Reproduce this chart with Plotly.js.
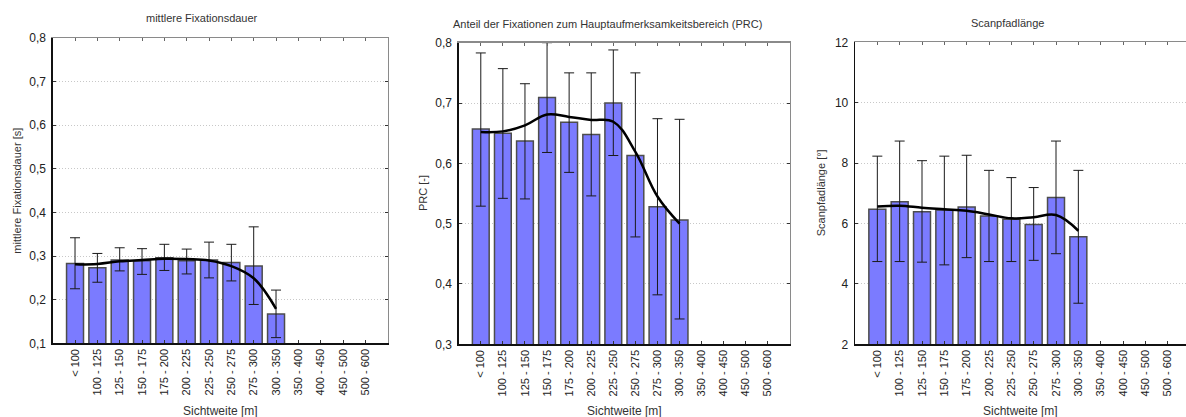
<!DOCTYPE html>
<html>
<head>
<meta charset="utf-8">
<script src="https://cdn.plot.ly/plotly-3.0.1.min.js"></script>
<style>
  html, body { margin: 0; padding: 0; background: #fff; }
  #chart { width: 1186px; height: 417px; }
</style>
</head>
<body>
<div id="chart"></div>
<script>
// Visibility classes (Sichtweite)
const categories = ['< 100', '100 - 125', '125 - 150', '150 - 175', '175 - 200', '200 - 225', '225 - 250',
  '250 - 275', '275 - 300', '300 - 350', '350 - 400', '400 - 450', '450 - 500', '500 - 600'];

// Mean fixation duration [s]
const fixMean  = [0.283, 0.273, 0.291, 0.289, 0.296, 0.289, 0.291, 0.285, 0.277, 0.167];
const fixUpper = [0.342, 0.306, 0.319, 0.317, 0.327, 0.316, 0.332, 0.327, 0.367, 0.222];
const fixLower = [0.225, 0.240, 0.266, 0.258, 0.267, 0.259, 0.250, 0.243, 0.189, 0.113];
const fixTrend = [0.281, 0.282, 0.288, 0.291, 0.294, 0.293, 0.290, 0.277, 0.249, 0.179];

// Share of fixations in the main attention area (PRC)
const prcMean  = [0.657, 0.650, 0.637, 0.709, 0.668, 0.648, 0.700, 0.613, 0.528, 0.506];
const prcUpper = [0.783, 0.757, 0.732, 0.800, 0.750, 0.750, 0.788, 0.750, 0.674, 0.673];
const prcLower = [0.529, 0.542, 0.541, 0.618, 0.585, 0.546, 0.613, 0.478, 0.382, 0.342];
const prcTrend = [0.652, 0.653, 0.663, 0.681, 0.677, 0.672, 0.669, 0.619, 0.545, 0.500];

// Scan path length [°]
const scanMean  = [6.47, 6.72, 6.39, 6.45, 6.55, 6.25, 6.14, 5.97, 6.86, 5.56];
const scanUpper = [8.23, 8.73, 8.08, 8.23, 8.26, 7.76, 7.52, 7.19, 8.73, 7.76];
const scanLower = [4.74, 4.74, 4.72, 4.63, 4.87, 4.74, 4.74, 4.78, 5.00, 3.36];
const scanTrend = [6.56, 6.59, 6.52, 6.47, 6.42, 6.30, 6.17, 6.21, 6.28, 5.76];

const W = 1186, H = 417;
const px = v => v / W;           // horizontal pixel -> paper
const py = v => 1 - v / H;       // vertical pixel -> paper

const FONT = 'Liberation Sans, Arial, sans-serif';
const BAR_FILL = '#7b7bff';
const BAR_LINE = '#4d4d4d';

// Panel frames in pixels: left, right, top, bottom
const panels = [
  { l: 52.7, r: 387.7, t: 38.0, b: 343.3, yr: [0.1, 0.8], dt: 0.1, xr: [-1, 14],
    mean: fixMean, up: fixUpper, lo: fixLower, trend: fixTrend,
    title: 'mittlere Fixationsdauer', tx: 202, ty: 18,
    ytitle: 'mittlere Fixationsdauer [s]', yx: 17, rightFrame: true },
  { l: 458.7, r: 790.0, t: 42.7, b: 344.3, yr: [0.3, 0.8], dt: 0.1, xr: [-1, 14],
    mean: prcMean, up: prcUpper, lo: prcLower, trend: prcTrend,
    title: 'Anteil der Fixationen zum Hauptaufmerksamkeitsbereich (PRC)', tx: 607.5, ty: 24,
    ytitle: 'PRC [-]', yx: 422.5, rightFrame: true },
  { l: 855.0, r: 1186.0, t: 42.3, b: 344.3, yr: [2, 12], dt: 2, xr: [-1, 13.82],
    mean: scanMean, up: scanUpper, lo: scanLower, trend: scanTrend,
    title: 'Scanpfadlänge', tx: 1007, ty: 23,
    ytitle: 'Scanpfadlänge [°]', yx: 821, rightFrame: false }
];

const traces = [];
const layout = {
  width: W, height: H,
  margin: { l: 0, r: 0, t: 0, b: 0 },
  paper_bgcolor: '#ffffff', plot_bgcolor: '#ffffff',
  separators: ',.',
  showlegend: false,
  font: { family: FONT, color: '#222', size: 12 },
  annotations: []
};

panels.forEach((p, i) => {
  const n = i * 2 + 1;                 // main axes: 1,3,5 ; frame axes: 2,4,6
  const xa = 'x' + (n === 1 ? '' : n), ya = 'y' + (n === 1 ? '' : n);
  const xk = 'xaxis' + (n === 1 ? '' : n), yk = 'yaxis' + (n === 1 ? '' : n);
  const fx = n + 1;
  const dom = { x: [px(p.l), px(p.r)], y: [py(p.b), py(p.t)] };
  const xs = categories.slice(0, p.mean.length);

  traces.push({
    type: 'bar', x: xs, y: p.mean, xaxis: xa, yaxis: ya,
    width: 0.76,
    marker: { color: BAR_FILL, line: { color: BAR_LINE, width: 1.5 } },
    error_y: {
      type: 'data', symmetric: false,
      array: p.up.map((u, k) => u - p.mean[k]),
      arrayminus: p.lo.map((l, k) => p.mean[k] - l),
      color: '#1a1a1a', thickness: 1, width: 5
    },
    hoverinfo: 'x+y'
  });
  traces.push({
    type: 'scatter', mode: 'lines', x: xs, y: p.trend, xaxis: xa, yaxis: ya,
    line: { color: '#000', width: 2.5, shape: 'spline', smoothing: 1.1 },
    hoverinfo: 'skip'
  });

  layout[xk] = {
    domain: dom.x, anchor: ya, type: 'category',
    categoryorder: 'array', categoryarray: categories,
    range: p.xr, fixedrange: true,
    showline: true, linecolor: '#111', linewidth: 1.3,
    ticks: 'inside', ticklen: 3, tickcolor: '#333', tickwidth: 1,
    tickangle: -90, tickfont: { family: FONT, size: 11, color: '#222' },
    showgrid: false, zeroline: false
  };
  layout[yk] = {
    domain: dom.y, anchor: xa, range: p.yr, dtick: p.dt, tick0: p.yr[0],
    fixedrange: true,
    showline: true, linecolor: '#111', linewidth: 1.3,
    ticks: 'inside', ticklen: 3, tickcolor: '#333', tickwidth: 1,
    ticklabelstandoff: 3,
    tickfont: { family: FONT, size: 12, color: '#222' },
    showgrid: true, gridcolor: '#c8c8c8', gridwidth: 1, griddash: '1px,2px',
    zeroline: false
  };

  // Grey frame on top (with category ticks) and on the right
  layout['xaxis' + fx] = {
    domain: dom.x, anchor: 'y' + fx, overlaying: xa, side: 'top', type: 'category',
    categoryorder: 'array', categoryarray: categories, range: p.xr, fixedrange: true,
    showline: true, linecolor: '#8a8a8a', linewidth: 1.3,
    ticks: 'inside', ticklen: 3, tickcolor: '#666', showticklabels: false,
    showgrid: false, zeroline: false
  };
  layout['yaxis' + fx] = {
    domain: dom.y, anchor: 'x' + fx, overlaying: ya, side: 'right',
    range: p.yr, dtick: p.dt, tick0: p.yr[0], fixedrange: true,
    showline: p.rightFrame, linecolor: '#8a8a8a', linewidth: 1.3,
    ticks: p.rightFrame ? 'inside' : '', ticklen: 3, tickcolor: '#333',
    showticklabels: false, showgrid: false, zeroline: false
  };
  // invisible carrier so the frame axes are drawn
  traces.push({ type: 'scatter', mode: 'none', x: [categories[0]], y: [p.yr[0]],
    xaxis: 'x' + fx, yaxis: 'y' + fx, hoverinfo: 'skip' });

  // Panel title, x-axis title and y-axis title
  layout.annotations.push({
    text: p.title, xref: 'paper', yref: 'paper', x: px(p.tx), y: py(p.ty),
    xanchor: 'center', yanchor: 'middle', showarrow: false,
    font: { family: FONT, size: 11, color: '#333' }
  });
  layout.annotations.push({
    text: 'Sichtweite [m]', xref: 'paper', yref: 'paper', x: px((p.l + Math.min(p.r, p.l + 335)) / 2),
    y: py(411), xanchor: 'center', yanchor: 'middle', showarrow: false,
    font: { family: FONT, size: 12, color: '#333' }
  });
  layout.annotations.push({
    text: p.ytitle, xref: 'paper', yref: 'paper', x: px(p.yx), y: py((p.t + p.b) / 2),
    xanchor: 'center', yanchor: 'middle', textangle: -90, showarrow: false,
    font: { family: FONT, size: 11, color: '#333' }
  });
});

Plotly.newPlot('chart', traces, layout, { displayModeBar: false, staticPlot: true });
</script>
</body>
</html>
